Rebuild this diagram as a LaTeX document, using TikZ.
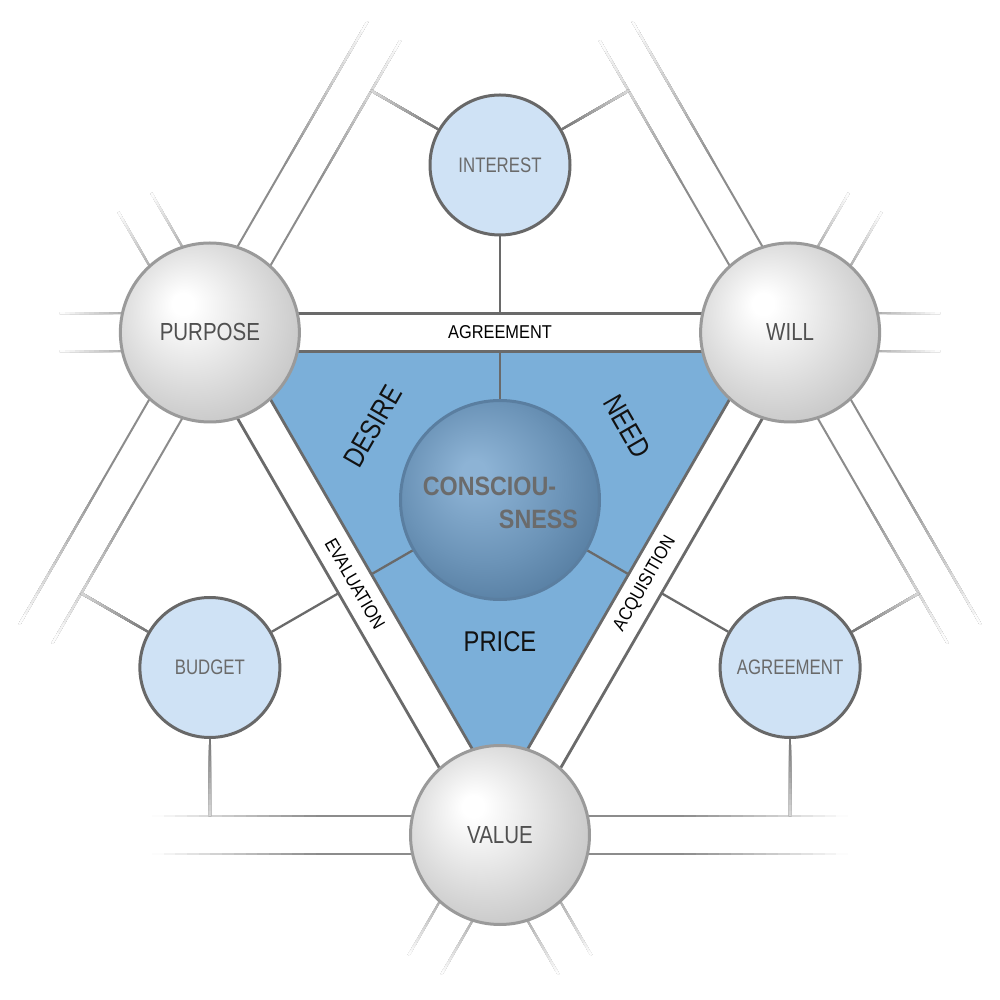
\documentclass[tikz,border=0pt]{standalone}
\usepackage{fontspec}
\setmainfont{Liberation Sans}
\newfontfamily\condfont[FakeStretch=0.83]{Liberation Sans}
\newfontfamily\condsmall[FakeStretch=0.80]{Liberation Sans}
\newfontfamily\condstrip[FakeStretch=0.88]{Liberation Sans}
\newfontfamily\condbold[FakeStretch=0.88]{Liberation Sans}
\usetikzlibrary{calc}
\pgfdeclarelayer{bg}
\pgfsetlayers{bg,main}
\definecolor{edgeline}{HTML}{6A6A6A}
\definecolor{longline}{HTML}{8C8C8C}
\definecolor{extline}{HTML}{A8A8A8}
\definecolor{conline}{HTML}{6A6A6A}
\definecolor{outcon}{HTML}{747474}
\definecolor{triblue}{HTML}{7BAFD9}
\definecolor{smallfill}{HTML}{CFE2F5}
\definecolor{smallborder}{HTML}{686868}
\definecolor{bigborder}{HTML}{9A9A9A}
\definecolor{coreborder}{HTML}{5A7EA0}
\definecolor{bigtext}{HTML}{505050}
\definecolor{smalltext}{HTML}{6A6A6A}
\definecolor{coretext}{HTML}{6B6B6B}
\definecolor{gsA}{HTML}{DCDCDC}
\definecolor{gsB}{HTML}{C2C2C2}
\definecolor{gsC}{HTML}{B8B8B8}
\definecolor{bsA}{HTML}{8DB3D5}
\definecolor{bsB}{HTML}{6C94B8}
\definecolor{bsC}{HTML}{52799D}
\definecolor{bsD}{HTML}{4A7096}
\pgfdeclareradialshading{greysphere}{\pgfpoint{-8bp}{8.5bp}}{color(0bp)=(white); color(3bp)=(white); color(20bp)=(gsA); color(33bp)=(gsB); color(50bp)=(gsC)}
\pgfdeclareradialshading{bluesphere}{\pgfpoint{-7bp}{7.5bp}}{color(0bp)=(bsA); color(3bp)=(bsA); color(20bp)=(bsB); color(33bp)=(bsC); color(50bp)=(bsD)}
% fading line: #1 start, #2 end, #3 colour, #4 style, #5 fraction where fading starts, #6 final percentage
\newcommand{\fadeline}[6]{%
  \draw[#4, draw=#3] (#1) -- (#2);
  \foreach \k in {1,...,14}{%
    \pgfmathsetmacro{\fT}{#5+(1-#5)*(\k-1)/14}%
    \pgfmathtruncatemacro{\fP}{100-(100-#6)*(\k-0.5)/14}%
    \draw[#4, draw=#3!\fP!white] ($(#1)!\fT!(#2)$) -- (#2);
  }%
}
\begin{document}
\begin{tikzpicture}[x=1pt,y=1pt,
  bigsph/.style={circle, minimum size=179pt, inner sep=0pt, draw=bigborder, line width=3pt, shade, shading=greysphere, text=bigtext, font=\condfont\fontsize{24.7}{28}\selectfont},
  smallcirc/.style={circle, minimum size=140pt, inner sep=0pt, draw=smallborder, line width=3pt, fill=smallfill, text=smalltext, font=\condsmall\fontsize{21}{24}\selectfont},
  coresph/.style={circle, minimum size=199pt, inner sep=0pt, draw=coreborder, line width=3pt, shade, shading=bluesphere},
  corelabel/.style={text=coretext, font=\condbold\bfseries\fontsize{26.5}{30}\selectfont, inner sep=0pt},
  striplabel/.style={font=\condstrip\fontsize{18.6}{22}\selectfont, inner sep=0pt, text=black},
  arealabel/.style={font=\condfont\fontsize{28.6}{32}\selectfont, inner sep=0pt, text=black!93},
  edgeln/.style={draw=edgeline, line width=2.8pt, line cap=butt},
  conln/.style={draw=conline, line width=2.3pt},
  thinln/.style={line width=2pt, line cap=butt},
  outln/.style={line width=2.3pt, line cap=butt},
]
\useasboundingbox (-500,-500) rectangle (500,500);

% nodes
\node[bigsph] (P) at (150:335) {PURPOSE};
\node[bigsph] (W) at (30:335) {WILL};
\node[bigsph] (V) at (270:335) {VALUE};
\node[smallcirc] (I) at (90:335) {INTEREST};
\node[smallcirc] (B) at (210:335) {BUDGET};
\node[smallcirc] (A) at (330:335) {AGREEMENT};
\node[coresph] (C) at (0,0) {};
\node[corelabel] (c1) at (-10.5,14) {CONSCIOU-};
\node[corelabel] (c2) at (38.5,-19) {SNESS};

% lattice of strips
\begin{pgfonlayer}{bg}
\fill[triblue] (150:297) -- (30:297) -- (270:297) -- cycle;
\foreach \r/\n in {0/a,120/b,240/c}{
  \pgfmathsetmacro{\m}{90+\r}
  \pgfmathsetmacro{\s}{150+\r}
  \pgfmathsetmacro{\d}{60+\r}
  \foreach \dd/\q in {148.5/i,186.5/o}{
    \coordinate (e\n\q L) at ($(\m:\dd)+(\r:-290)$);
    \coordinate (e\n\q R) at ($(\m:\dd)+(\r:290)$);
    \coordinate (e\n\q LN) at ($(\m:\dd)+(\r:-372)$);
    \coordinate (e\n\q LF) at ($(\m:\dd)+(\r:-440)$);
    \coordinate (e\n\q RN) at ($(\m:\dd)+(\r:372)$);
    \coordinate (e\n\q RF) at ($(\m:\dd)+(\r:440)$);
    \draw[edgeln] (e\n\q L) -- (e\n\q R);
    \fadeline{e\n\q LN}{e\n\q LF}{extline}{thinln}{0}{0}
    \fadeline{e\n\q RN}{e\n\q RF}{extline}{thinln}{0}{0}
  }
  \foreach \dd/\q in {316/i,354/o}{
    \coordinate (l\n\q PN) at ($(\s:\dd)+(\d:84)$);
    \coordinate (l\n\q PF) at ($(\s:\dd)+(\d:348)$);
    \coordinate (l\n\q MN) at ($(\s:\dd)+(\d:-84)$);
    \coordinate (l\n\q MF) at ($(\s:\dd)+(\d:-348)$);
    \fadeline{l\n\q PN}{l\n\q PF}{longline}{thinln}{0.38}{0}
    \fadeline{l\n\q MN}{l\n\q MF}{longline}{thinln}{0.38}{0}
  }
}
\end{pgfonlayer}

% connectors of the three small circles
\foreach \r/\sm in {0/I,120/B,240/A}{
  \pgfmathtruncatemacro{\m}{90+\r}
  \pgfmathtruncatemacro{\ua}{150+\r}
  \pgfmathtruncatemacro{\ub}{30+\r}
  \coordinate (o\sm) at (\m:186.5);
  \coordinate (i\sm) at (\m:148.5);
  \draw[conln] (\sm) -- (o\sm);
  \draw[conln] (i\sm) -- (C);
  \coordinate (x\sm a) at ($(\sm)+(\ua:148.5)$);
  \coordinate (x\sm b) at ($(\sm)+(\ub:148.5)$);
  \fadeline{\sm.\ua}{x\sm a}{outcon}{outln}{0}{28}
  \fadeline{\sm.\ub}{x\sm b}{outcon}{outln}{0}{28}
}

% labels
\node[striplabel] (lAg) at (90:167.5) {AGREEMENT};
\node[striplabel, rotate=-60] (lEv) at (210:167.5) {EVALUATION};
\node[striplabel, rotate=60] (lAc) at (330:167.5) {ACQUISITION};
\node[arealabel, rotate=60] (lDe) at (150:147) {DESIRE};
\node[arealabel, rotate=-60] (lNe) at (30:147) {NEED};
\node[arealabel] (lPr) at (270:142) {PRICE};
\end{tikzpicture}
\end{document}
